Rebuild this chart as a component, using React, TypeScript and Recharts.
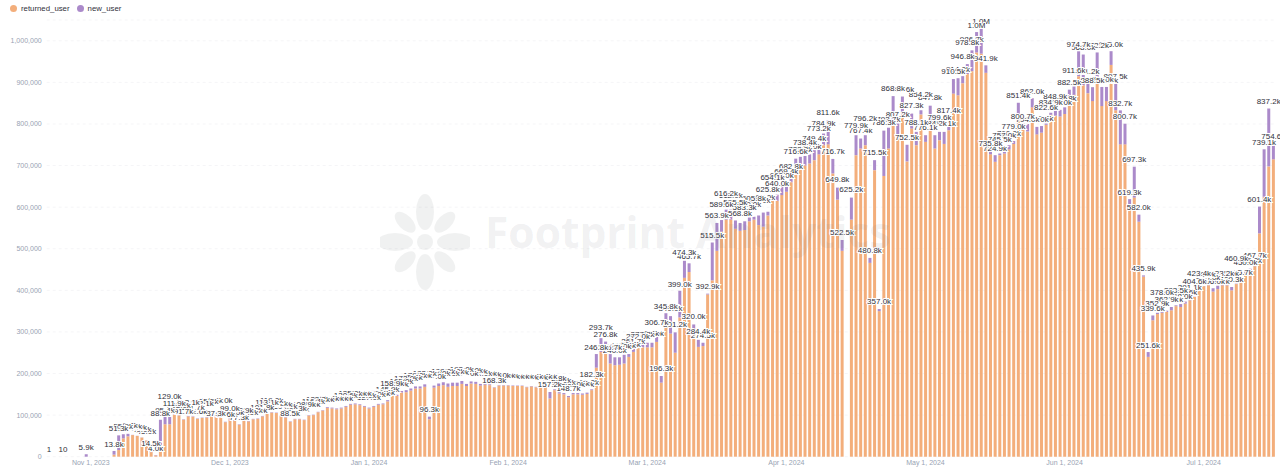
import React from 'react';
import { Bar, CartesianGrid, ComposedChart, Legend, LabelList, Line, XAxis, YAxis } from 'recharts';

// all values in thousands, one entry per day, 10 per row
const returnedK = [
  0, 0, 0, 0, 0, 0, 0, 0, 0, 0,
  0, 0, 0, 0, 5, 16, 44, 49, 52, 50,
  46, 39, 11, 3, 21, 78, 78, 101, 99, 89,
  97, 96, 91, 93, 94, 99, 99, 94, 83, 91,
  87, 77, 87, 85, 90, 91, 97, 103, 106, 105,
  98, 94, 84, 90, 90, 88, 99, 100, 107, 111,
  117, 116, 114, 116, 120, 125, 126, 124, 120, 116,
  120, 125, 126, 133, 146, 146, 154, 155, 159, 164,
  164, 168, 90, 166, 170, 172, 168, 170, 170, 175,
  170, 176, 175, 171, 173, 172, 166, 171, 171, 171,
  170, 170, 170, 167, 169, 167, 167, 166, 140, 160,
  152, 150, 143, 150, 150, 149, 151, 160, 214, 252,
  265, 224, 220, 221, 224, 240, 252, 261, 263, 263,
  263, 276, 178, 327, 296, 250, 335, 430, 444, 304,
  264, 266, 390, 424, 495, 541, 570, 570, 548, 543,
  545, 566, 570, 557, 553, 580, 615, 615, 629, 637,
  660, 693, 698, 700, 705, 713, 727, 749, 751, 681,
  618, 495, 0, 570, 725, 741, 749, 466, 689, 350,
  675, 741, 801, 775, 829, 710, 789, 749, 823, 757,
  804, 741, 761, 752, 785, 873, 869, 898, 920, 927,
  972, 969, 923, 727, 709, 725, 729, 739, 752, 824,
  795, 782, 840, 775, 779, 798, 822, 820, 818, 824,
  866, 870, 915, 893, 874, 855, 897, 843, 855, 942,
  833, 751, 751, 605, 623, 565, 433, 240, 328, 343,
  346, 348, 352, 362, 360, 368, 376, 384, 405, 410,
  412, 397, 403, 412, 412, 400, 415, 419, 443, 447,
  458, 537, 625, 698, 715,
];

const newK = [
  0.001, 0, 0, 0.01, 0, 0, 0, 0, 5.9, 0,
  0, 0, 0, 0, 8.8, 35.3, 10, 6, 0.5, 0.3,
  0.3, 0.3, 3.5, 1, 67.8, 17.4, 19, 0.5, 0.5, 1,
  1, 1, 1, 1, 1, 1, 1, 1, 1, 1,
  1, 1, 1, 1, 1, 1, 1, 1, 1, 1,
  1, 1, 1, 1, 1, 1, 1, 1, 1, 1,
  2, 2, 2, 2, 2, 2, 2, 2, 2, 2,
  2, 2, 2, 3, 3, 3, 4, 5, 5, 5,
  5, 6, 6.3, 5, 6, 7, 8, 8, 8, 7,
  5, 5, 5, 4, 3, 2, 1, 1, 1, 1,
  1, 1, 1, 1, 1, 1, 1, 1, 15.5, 2,
  3, 3, 3, 3, 3, 3, 3, 2, 32.8, 33,
  11.8, 22.7, 19, 18, 21, 6.8, 9.7, 7, 11, 11,
  11, 28, 16, 18, 42, 49, 64, 41, 21, 14,
  17, 8, 2, 91, 67, 28, 24, 24, 20, 19,
  21, 9, 7, 23, 34, 9, 13, 15, 24, 18,
  13, 23.6, 23, 23, 22, 24, 12, 28, 58, 35,
  29, 26, 0, 53, 48, 24, 24, 12, 24, 5,
  109, 50, 66, 26, 37, 40, 36, 32, 10, 16,
  40, 32, 20, 29, 8, 35, 41, 17, 24, 50,
  49, 61, 18, 6, 16, 4, 4, 10, 7, 27,
  6, 18, 22, 18, 16, 3, 5, 13, 16, 16,
  16.5, 20, 59.7, 74, 23, 33.5, 75, 46, 34, 33,
  64.5, 81.7, 49.7, 14.3, 74.3, 17, 2.9, 11.6, 11.6, 3,
  3, 3, 8, 2, 7, 5, 2, 0.5, 0.5, 0.5,
  0.5, 8, 8, 1, 1, 8, 1, 1, 2, 5,
  1, 64.4, 114.1, 139.2, 39.6,
];

// printed data labels, these do not always sit on the visible bar top
const labelK = [
  0.001, 0, 0, 0.01, 0, 0, 0, 0, 5.9, 0,
  0, 0, 0, 0, 13.8, 51.3, 55.9, 58.2, 57, 53,
  49, 45, 14.5, 4, 88.8, 95.4, 129, 111.9, 108, 91.7,
  113.1, 101.7, 92.6, 112.1, 115.5, 118.6, 87.3, 120, 85.6, 99,
  90, 77.3, 93.9, 90.9, 94, 96, 101.8, 113.1, 119, 112.2,
  110, 104, 88.5, 100.3, 98, 108.9, 110.6, 116.4, 122.2, 122,
  125, 124, 123, 124, 130.6, 135, 137, 135, 130, 127,
  133, 137, 138, 145.9, 158.9, 157, 165, 172, 175, 179,
  178, 183, 96.3, 177, 185, 188, 185, 188, 187, 193,
  184, 191, 189, 184, 183, 182, 168.3, 178, 178, 177,
  176, 176, 176, 175, 176, 175, 177, 176.8, 157.2, 172.8,
  168, 163, 148.7, 158, 159, 158, 162, 182.3, 246.8, 293.7,
  276.8, 246.7, 240, 248, 252, 253, 261.7, 272, 277.3, 279,
  279, 306.7, 196.3, 345.8, 340, 301.2, 399, 474.3, 465.7, 320,
  284.4, 274.5, 392.9, 515.5, 563.9, 589.6, 616.2, 612, 595.5, 568.8,
  583.3, 590, 605.8, 600, 607, 625.8, 654.1, 640, 660, 669.4,
  682.8, 716.6, 723.3, 738.4, 730, 749.4, 773.2, 784.9, 811.6, 716.7,
  649.8, 522.5, 0, 625.2, 779.9, 767.4, 796.2, 480.8, 715.5, 357,
  786.3, 793.7, 868.8, 807.2, 866.6, 752.5, 827.3, 788.1, 854.2, 776.1,
  847.8, 784.2, 799.6, 784.1, 817.4, 910.5, 914, 946.8, 978.8, 986.7,
  1020, 1030, 941.9, 735.8, 724.9, 745.5, 757, 760, 779, 851.4,
  800.7, 794, 862, 795, 798, 822.6, 834.9, 848.9, 836, 844.8,
  882.5, 911.6, 974.7, 968, 911.2, 888.5, 972.2, 890, 888.8, 975,
  897.5, 832.7, 800.7, 619.3, 697.3, 582, 435.9, 251.6, 339.6, 352.9,
  378, 362.9, 362.1, 383.5, 368, 378.6, 391.1, 404.6, 423.4, 420.9,
  415, 406, 406.1, 423.2, 425, 409.3, 460.9, 425.7, 450, 455,
  467.7, 601.4, 739.1, 837.2, 754.6,
];

const tickDays = [9, 39, 69, 99, 129, 159, 189, 219, 249];
const tickNames = ['Nov 1, 2023', 'Dec 1, 2023', 'Jan 1, 2024', 'Feb 1, 2024', 'Mar 1, 2024', 'Apr 1, 2024', 'May 1, 2024', 'Jun 1, 2024', 'Jul 1, 2024'];
const yTicks = [0, 100000, 200000, 300000, 400000, 500000, 600000, 700000, 800000, 900000, 1000000];

const FONT = '"Liberation Sans", Arial, sans-serif';
const ORANGE = '#f3ae7b';
const PURPLE = '#ab8aca';

// reversed so that earlier days paint over later ones, the axis flips it back
const rows = returnedK
  .map((r, i) => ({
    day: i,
    returned_user: r * 1000,
    new_user: newK[i] * 1000,
    label: labelK[i] > 0 ? labelK[i] * 1000 : null,
  }))
  .reverse();

const formatLabel = (v: number) => {
  if (v >= 1000000) return `${(v / 1000000).toFixed(1)}M`;
  if (v >= 1000) return `${(v / 1000).toFixed(1)}k`;
  return String(Math.round(v));
};

const BarLabel = (props: any) => {
  const { x, y, value } = props;
  if (value == null) return null;
  return (
    <text
      x={x}
      y={y - 6.7}
      textAnchor="middle"
      dominantBaseline="central"
      fontSize={8}
      fontFamily={FONT}
      fill="#30303a"
      stroke="#fff"
      strokeWidth={2}
      style={{ paintOrder: 'stroke' }}
    >
      {formatLabel(value)}
    </text>
  );
};

const petals = [0, 45, 90, 135, 180, 225, 270, 315];

const Watermark = () => (
  <div style={{ position: 'absolute', left: 0, top: 0, width: 1280, height: 469, pointerEvents: 'none' }}>
    <svg width={90} height={105} style={{ position: 'absolute', left: 380, top: 190 }}>
      <g transform="translate(45 52)" fill="rgba(120,125,130,0.11)">
        <circle r={8} />
        {petals.map((a) => (
          <ellipse key={a} cx={0} cy={a % 90 === 0 ? -30 : -28} rx={a % 90 === 0 ? 9 : 7} ry={a % 90 === 0 ? 18 : 13} transform={`rotate(${a})`} />
        ))}
      </g>
    </svg>
    <div
      style={{
        position: 'absolute',
        left: 485,
        top: 205,
        fontFamily: '"Open Sans", sans-serif',
        fontWeight: 700,
        fontSize: 42.5,
        lineHeight: '54px',
        color: 'rgba(120,125,130,0.11)',
        whiteSpace: 'nowrap',
      }}
    >
      Footprint Analytics
    </div>
  </div>
);

export default function App() {
  return (
    <div style={{ position: 'absolute', left: 0, top: 0, width: 1280, height: 469, background: '#fff' }}>
      <ComposedChart
        width={1280}
        height={469}
        data={rows}
        margin={{ top: 11, right: 4.4, bottom: 0, left: 0 }}
        barCategoryGap="20%"
      >
        <CartesianGrid vertical={false} stroke="#f5f5f7" strokeDasharray="3 3" />
        <XAxis
          dataKey="day"
          reversed
          ticks={tickDays}
          interval={0}
          height={12.3}
          tickLine={false}
          tickSize={0}
          axisLine={false}
          tickMargin={3}
          tickFormatter={(d: number) => tickNames[tickDays.indexOf(d)]}
          tick={{ fontSize: 7, fontFamily: FONT, fill: '#98a3b3' }}
        />
        <YAxis
          width={46.7}
          domain={[0, 1050000]}
          ticks={yTicks}
          interval={0}
          tickLine={false}
          tickSize={0}
          axisLine={false}
          tickMargin={5}
          tickFormatter={(v: number) => v.toLocaleString('en-US')}
          tick={{ fontSize: 7, fontFamily: FONT, fill: '#98a3b3' }}
        />
        <Legend
          verticalAlign="top"
          align="left"
          iconType="circle"
          iconSize={7}
          itemSorter={null}
          wrapperStyle={{ left: 10, top: 4, width: 200, fontFamily: FONT, fontSize: 7.8, fontWeight: 400, whiteSpace: 'nowrap' }}
          formatter={(v: string) => <span style={{ color: '#30303a', display: 'inline-block', marginRight: -3 }}>{v}</span>}
        />
        <Bar dataKey="returned_user" stackId="a" fill={ORANGE} isAnimationActive={false} />
        <Bar dataKey="new_user" stackId="a" fill={PURPLE} isAnimationActive={false} />
        <Line dataKey="label" stroke="none" dot={false} activeDot={false} legendType="none" isAnimationActive={false}>
          <LabelList dataKey="label" content={BarLabel} />
        </Line>
      </ComposedChart>
      <Watermark />
    </div>
  );
}
